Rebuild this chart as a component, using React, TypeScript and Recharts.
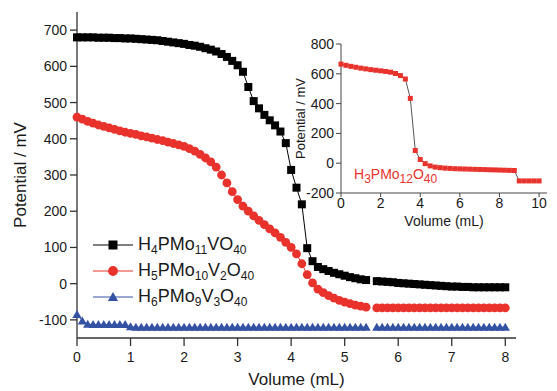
import { Label, Legend, Line, LineChart, XAxis, YAxis } from "recharts";

const FONT = 'Arial, "Liberation Sans", sans-serif';
const AXIS = "#333";
const TEXT = "#1a1a1a";

// main titration curves, sampled every 0.1 mL (gap at 5.5 mL)
const volume = [
  0, 0.1, 0.2, 0.3, 0.4, 0.5, 0.6, 0.7, 0.8, 0.9,
  1.0, 1.1, 1.2, 1.3, 1.4, 1.5, 1.6, 1.7, 1.8, 1.9,
  2.0, 2.1, 2.2, 2.3, 2.4, 2.5, 2.6, 2.7, 2.8, 2.9,
  3.0, 3.1, 3.2, 3.3, 3.4, 3.5, 3.6, 3.7, 3.8, 3.9,
  4.0, 4.1, 4.2, 4.3, 4.4, 4.5, 4.6, 4.7, 4.8, 4.9,
  5.0, 5.1, 5.2, 5.3, 5.4, 5.5, 5.6, 5.7, 5.8, 5.9,
  6.0, 6.1, 6.2, 6.3, 6.4, 6.5, 6.6, 6.7, 6.8, 6.9,
  7.0, 7.1, 7.2, 7.3, 7.4, 7.5, 7.6, 7.7, 7.8, 7.9,
  8.0,
];

const pmo11v = [
  680, 680, 680, 680, 679, 679, 679, 678, 678, 677,
  677, 676, 675, 674, 673, 672, 670, 668, 666, 664,
  662, 659, 657, 654, 650, 646, 641, 634, 626, 615,
  603, 585, 543, 504, 484, 466, 451, 437, 420, 388,
  314, 265, 219, 98, 62, 46, 40, 35, 30, 26,
  22, 18, 15, 12, 10, null, 7, 6, 5, 4,
  2, 1, 0, -1, -2, -3, -4, -5, -6, -7,
  -8, -8, -9, -9, -10, -10, -10, -10, -10, -10,
  -10,
];

const pmo10v2 = [
  460, 454, 448, 443, 438, 434, 430, 426, 422, 418,
  415, 412, 408, 405, 402, 398, 395, 391, 387, 383,
  379, 373, 366, 357, 347, 336, 322, 300, 278, 254,
  232, 214, 200, 187, 175, 163, 151, 140, 128, 114,
  100, 82, 55, 25, 2, -15, -25, -33, -40, -46,
  -51, -55, -59, -62, -65, null, -67, -67, -67, -67,
  -67, -67, -67, -67, -67, -67, -67, -67, -67, -67,
  -67, -67, -67, -67, -67, -67, -67, -67, -67, -67,
  -67,
];

const pmo9v3 = [
  -85, -103, -112, -113, -113, -113, -113, -113, -113, -113,
  -119, -120, -120, -120, -120, -120, -120, -120, -120, -120,
  -120, -120, -120, -120, -120, -120, -120, -120, -120, -120,
  -120, -120, -120, -120, -120, -120, -120, -120, -120, -120,
  -120, -120, -120, -120, -120, -120, -120, -120, -120, -120,
  -120, -120, -120, -120, -120, null, -120, -120, -120, -120,
  -120, -120, -120, -120, -120, -120, -120, -120, -120, -120,
  -120, -120, -120, -120, -120, -120, -120, -120, -120, -120,
  -120,
];

const xTicks = [0, 1, 2, 3, 4, 5, 6, 7, 8];
const yTicks = [-100, 0, 100, 200, 300, 400, 500, 600, 700];

// inset: H3PMo12O40, every 0.25 mL
const insetVolume = [
  0, 0.25, 0.5, 0.75, 1, 1.25, 1.5, 1.75, 2, 2.25,
  2.5, 2.75, 3, 3.25, 3.5, 3.75, 4, 4.25, 4.5, 4.75,
  5, 5.25, 5.5, 5.75, 6, 6.25, 6.5, 6.75, 7, 7.25,
  7.5, 7.75, 8, 8.25, 8.5, 8.75, 9, 9.25, 9.5, 9.75,
  10,
];
const insetPotential = [
  665, 657, 650, 644, 638, 633, 628, 624, 620, 616,
  611, 602, 588, 565, 435, 85, 25, -3, -18, -26,
  -30, -33, -35, -37, -38, -39, -40, -41, -42, -43,
  -44, -45, -46, -47, -48, -49, -119, -119, -119, -119,
  -119,
];
const insetXTicks = [0, 2, 4, 6, 8, 10];
const insetYTicks = [-200, 0, 200, 400, 600, 800];

const SERIES = [
  { key: "pmo11v", name: "H4PMo11VO40", color: "#000000", marker: "square" },
  { key: "pmo10v2", name: "H5PMo10V2O40", color: "#e8322b", marker: "circle" },
  { key: "pmo9v3", name: "H6PMo9V3O40", color: "#3452a4", marker: "triangle" },
];

const rows = volume.map((v, i) => ({
  volume: v,
  pmo11v: pmo11v[i],
  pmo10v2: pmo10v2[i],
  pmo9v3: pmo9v3[i],
}));

const insetRows = insetVolume.map((v, i) => ({ volume: v, potential: insetPotential[i] }));

function Marker({ cx, cy, type, color, size = 8 }: any) {
  if (cx == null || cy == null) return <g />;
  const h = size / 2;
  if (type === "square")
    return <rect x={cx - h} y={cy - h} width={size} height={size} fill={color} />;
  if (type === "circle") return <circle cx={cx} cy={cy} r={h + 0.4} fill={color} />;
  return (
    <polygon
      points={`${cx},${cy - h - 0.5} ${cx - h - 0.6},${cy + h - 0.5} ${cx + h + 0.6},${cy + h - 0.5}`}
      fill={color}
    />
  );
}

// chemical formula: digit runs become subscripts
function Formula({ text, sub, drop }: { text: string; sub: number; drop: number }) {
  return (
    <>
      {text.split(/(\d+)/).map((part, i) =>
        /^\d+$/.test(part) ? (
          <span key={i} style={{ fontSize: sub, position: "relative", top: drop }}>
            {part}
          </span>
        ) : (
          <span key={i}>{part}</span>
        )
      )}
    </>
  );
}

function SeriesLegend({ payload }: any) {
  return (
    <div style={{ fontFamily: FONT }}>
      {(payload || []).map((p: any) => {
        const s = SERIES.find((d) => d.key === p.dataKey) || SERIES[0];
        return (
          <div key={s.key} style={{ display: "flex", alignItems: "center", height: 26 }}>
            <svg width={40} height={14}>
              <line x1={0} x2={40} y1={7} y2={7} stroke={s.color} strokeWidth={1} />
              <Marker cx={20} cy={7} type={s.marker} color={s.color} size={9} />
            </svg>
            <span style={{ marginLeft: 5, fontSize: 18, color: TEXT, lineHeight: "26px", whiteSpace: "nowrap" }}>
              <Formula text={s.name} sub={12} drop={4} />
            </span>
          </div>
        );
      })}
    </div>
  );
}

const tickStyle = { fontSize: 14, fill: TEXT, fontFamily: FONT };

export default function App() {
  return (
    <div style={{ position: "absolute", left: 0, top: 0, width: 557, height: 391, background: "#fff", fontFamily: FONT }}>
      <LineChart width={557} height={391} data={rows} margin={{ top: 12, right: 41, bottom: 23, left: 17 }}>
        <XAxis
          dataKey="volume"
          type="number"
          domain={[0, 8.2]}
          ticks={xTicks}
          tickSize={8}
          tickMargin={6}
          height={30}
          stroke={AXIS}
          strokeWidth={1.3}
          tick={tickStyle}
        >
          <Label value="Volume (mL)" position="bottom" offset={5} style={{ fontSize: 17, fill: TEXT, fontFamily: FONT }} />
        </XAxis>
        <YAxis
          type="number"
          domain={[-150, 750]}
          ticks={yTicks}
          tickSize={7}
          tickMargin={3}
          width={60}
          stroke={AXIS}
          strokeWidth={1.3}
          tick={tickStyle}
        >
          <Label
            value="Potential / mV"
            angle={-90}
            position="insideLeft"
            offset={3}
            style={{ fontSize: 17, fill: TEXT, fontFamily: FONT, textAnchor: "middle" }}
          />
        </YAxis>
        <Legend
          layout="vertical"
          align="center"
          verticalAlign="middle"
          wrapperStyle={{ left: 93, top: 232, width: "auto", height: "auto" }}
          content={<SeriesLegend />}
        />
        {SERIES.map((s) => (
          <Line
            key={s.key}
            dataKey={s.key}
            name={s.name}
            stroke={s.color}
            strokeWidth={1}
            type="linear"
            isAnimationActive={false}
            dot={(p: any) => <Marker key={p.index} cx={p.cx} cy={p.cy} type={s.marker} color={s.color} />}
            activeDot={false}
          />
        ))}
      </LineChart>

      <div style={{ position: "absolute", left: 280, top: 30 }}>
        <LineChart width={270} height={210} data={insetRows} margin={{ top: 14, right: 3, bottom: 27, left: 11 }}>
          <XAxis
            dataKey="volume"
            type="number"
            domain={[0, 10.4]}
            ticks={insetXTicks}
            tickSize={4}
            tickMargin={1}
            height={20}
            stroke="#444"
            tick={tickStyle}
          >
            <Label value="Volume (mL)" position="bottom" offset={3} style={{ fontSize: 14, fill: TEXT, fontFamily: FONT }} />
          </XAxis>
          <YAxis
            type="number"
            domain={[-200, 800]}
            ticks={insetYTicks}
            tickSize={5}
            tickMargin={2}
            width={50}
            stroke="#444"
            tick={tickStyle}
          >
            <Label
              value="Potential / mV"
              angle={-90}
              position="insideLeft"
              offset={9}
              style={{ fontSize: 13, fill: TEXT, fontFamily: FONT, textAnchor: "middle" }}
            />
          </YAxis>
          <Line
            dataKey="potential"
            stroke="#555"
            strokeWidth={1}
            type="linear"
            isAnimationActive={false}
            dot={(p: any) => <Marker key={p.index} cx={p.cx} cy={p.cy} type="square" color="#e8322b" size={5} />}
            activeDot={false}
          />
        </LineChart>
      </div>

      <div style={{ position: "absolute", left: 354, top: 166, fontSize: 14, color: "#e8322b", whiteSpace: "nowrap" }}>
        <Formula text="H3PMo12O40" sub={12} drop={4} />
      </div>
    </div>
  );
}
